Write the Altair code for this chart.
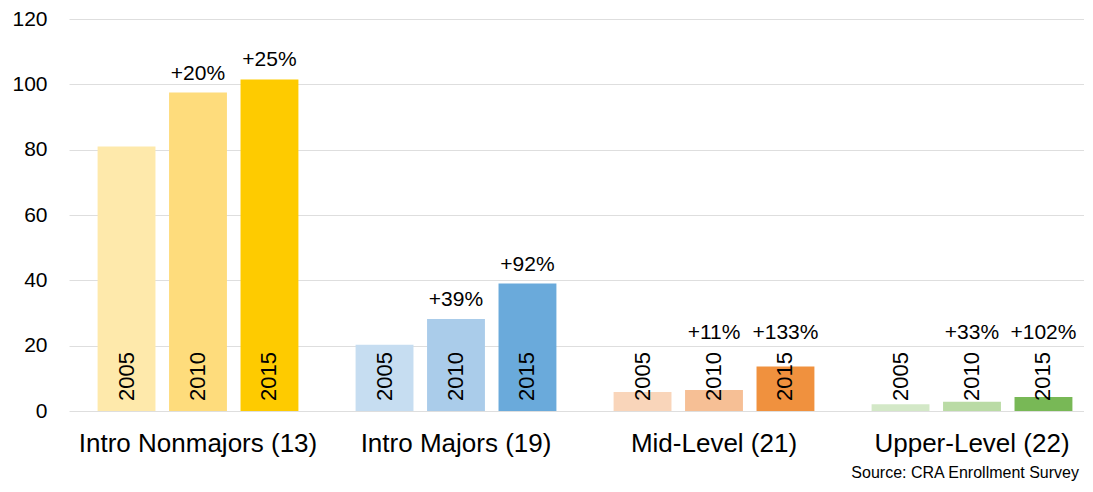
import altair as alt
import pandas as pd

categories = ["Intro Nonmajors (13)", "Intro Majors (19)", "Mid-Level (21)", "Upper-Level (22)"]
years = ["2005", "2010", "2015"]

nonmajors = [81.0, 97.5, 101.5]
majors = [20.3, 28.2, 39.0]
midlevel = [5.8, 6.4, 13.6]
upperlevel = [2.1, 2.8, 4.25]

nonmajors_pct = ["", "+20%", "+25%"]
majors_pct = ["", "+39%", "+92%"]
midlevel_pct = ["", "+11%", "+133%"]
upperlevel_pct = ["", "+33%", "+102%"]

nonmajors_colors = ["#FEE9AB", "#FEDC7C", "#FECB00"]
majors_colors = ["#C6DDF1", "#AACCEA", "#6AAADB"]
midlevel_colors = ["#F9D5BA", "#F6BF95", "#F0913E"]
upperlevel_colors = ["#D3E8C7", "#BADBA5", "#78B856"]

series = [nonmajors, majors, midlevel, upperlevel]
pcts = [nonmajors_pct, majors_pct, midlevel_pct, upperlevel_pct]
palettes = [nonmajors_colors, majors_colors, midlevel_colors, upperlevel_colors]

rows = []
keys = []
colors = []
for cat, vals, pc, pal in zip(categories, series, pcts, palettes):
    for yr, v, p, c in zip(years, vals, pc, pal):
        key = f"{cat}|{yr}"
        rows.append({"category": cat, "year": yr, "value": v, "pct": p, "key": key})
        keys.append(key)
        colors.append(c)
df = pd.DataFrame(rows)

FONT = "Liberation Sans"

base = alt.Chart(df).encode(
    x=alt.X(
        "category:N",
        sort=categories,
        scale=alt.Scale(range=[0, 1032], paddingInner=0, paddingOuter=0),
        axis=alt.Axis(
            title=None, labelAngle=0, labelFontSize=26, labelFont=FONT,
            labelColor="black", ticks=False, domain=False, labelPadding=19,
            labelLimit=0,
        ),
    ),
    xOffset=alt.XOffset("year:N", scale=alt.Scale(paddingInner=0.19, paddingOuter=0.4)),
)

bars = base.mark_bar().encode(
    y=alt.Y(
        "value:Q",
        scale=alt.Scale(domain=[0, 120]),
        axis=alt.Axis(
            values=[0, 20, 40, 60, 80, 100, 120], title=None, labelFontSize=21,
            labelFont=FONT, labelColor="black", grid=True, gridColor="#dedede",
            domain=False, ticks=False, labelPadding=22,
        ),
    ),
    color=alt.Color("key:N", scale=alt.Scale(domain=keys, range=colors), legend=None),
)

year_text = base.mark_text(
    angle=270, align="left", baseline="middle", dx=10, fontSize=22, font=FONT, color="black"
).encode(y=alt.datum(0), text="year:N")

pct_text = base.transform_calculate(
    label_y="max(datum.value, 18)"
).mark_text(
    baseline="alphabetic", dy=-13, fontSize=21, font=FONT, color="black"
).encode(y=alt.Y("label_y:Q"), text="pct:N")

chart = alt.layer(bars, year_text, pct_text).properties(
    width=1010,
    height=392,
    autosize=alt.AutoSizeParams(type="none"),
    padding={"left": 61, "top": 11, "right": 5, "bottom": 72},
    title=alt.TitleParams(
        "Source: CRA Enrollment Survey", orient="bottom", anchor="end", align="right",
        frame="group", fontSize=16, fontWeight="normal", font=FONT, color="black",
        offset=9,
    ),
).configure_view(stroke=None)

chart.save("out.html", embed_options={"renderer": "svg", "actions": False})
